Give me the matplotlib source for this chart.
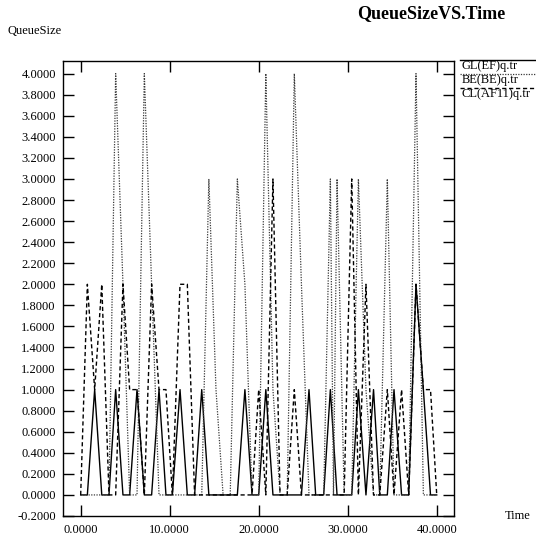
import matplotlib
matplotlib.use("Agg")
import matplotlib.pyplot as plt
from matplotlib.lines import Line2D

# ---- data ----
time = [0.0, 0.75, 1.57, 2.37, 3.18, 3.93, 4.75, 5.5, 6.33, 7.15, 7.97, 8.8, 9.58,
        10.3, 11.16, 11.98, 12.8, 13.6, 14.4, 15.2, 16.0, 16.8, 17.6, 18.45, 19.25,
        20.0, 20.8, 21.6, 22.4, 23.2, 24.0, 24.8, 25.65, 26.4, 27.3, 28.05, 28.8,
        29.6, 30.45, 31.2, 32.05, 32.9, 33.6, 34.45, 35.2, 36.05, 36.85, 37.67,
        38.5, 39.3, 40.0]
gl_ef = [0, 0, 1, 0, 0, 1, 0, 0, 1, 0, 0, 1, 0, 0, 1, 0, 0, 1, 0, 0, 0, 0, 0, 1, 0,
         0, 1, 0, 0, 0, 0, 0, 1, 0, 0, 1, 0, 0, 0, 1, 0, 1, 0, 0, 1, 0, 0, 2, 1, 0, 0]
cl_af11 = [0, 2, 1, 2, 0, 0, 2, 1, 1, 0, 2, 1, 1, 0, 2, 2, 0, 0, 0, 0, 0, 0, 0, 0, 0,
           1, 0, 3, 0, 0, 1, 0, 0, 0, 0, 0, 0, 0, 3, 0, 2, 0, 0, 1, 0, 1, 0, 2, 1, 1, 0]
be_time = [0.0, 3.18, 3.93, 4.75, 5.5, 6.33, 7.15, 7.97, 8.8, 13.6, 14.4, 15.2, 16.0,
           16.8, 17.6, 18.45, 19.25, 20.0, 20.8, 21.6, 22.4, 23.2, 24.0, 24.8, 25.65,
           27.3, 28.05, 28.4, 28.8, 29.6, 30.45, 31.2, 32.05, 32.9, 33.6, 34.45, 35.2,
           36.85, 37.67, 38.5, 40.0]
be_be = [0, 0, 4, 2, 0, 0, 4, 2, 0, 0, 3, 1, 0, 0, 3, 2, 0, 0, 4, 1, 0, 0, 4, 2, 0,
         0, 3, 0, 3, 0, 0, 3, 1, 0, 0, 3, 0, 0, 4, 0, 0]

legend_labels = ["GL(EF)q.tr", "BE(BE)q.tr", "CL(AF11)q.tr"]
x_ticks = [0, 10, 20, 30, 40]
y_ticks = [-0.2, 0.0, 0.2, 0.4, 0.6, 0.8, 1.0, 1.2, 1.4, 1.6, 1.8, 2.0, 2.2, 2.4,
           2.6, 2.8, 3.0, 3.2, 3.4, 3.6, 3.8, 4.0]

plt.rcParams['font.family'] = ['Liberation Serif', 'DejaVu Serif']

W, H = 536, 537
fig = plt.figure(figsize=(W / 100, H / 100), dpi=100)
ax = fig.add_axes([62.7 / W, 1 - 516 / H, (454 - 62.7) / W, (516 - 61) / H])

solid = dict(color='black', lw=1.0, linestyle='-')
dotted = dict(color='#3a3a3a', lw=0.9, linestyle=(0, (1, 1.1)))
dashed = dict(color='black', lw=1.0, linestyle=(0, (3, 2)))

ax.plot(time, gl_ef, **solid)
ax.plot(be_time, be_be, **dotted)
ax.plot(time, cl_af11, **dashed)

ax.set_xlim(-2.02, 41.94)
ax.set_ylim(-0.2, 4.12)
ax.set_xticks(x_ticks)
ax.set_xticklabels([f"{v:.4f}" for v in x_ticks])
ax.set_yticks(y_ticks)
ax.set_yticklabels([f"{v:.4f}" for v in y_ticks])
ax.tick_params(direction='in', length=8, width=1.0, top=True, right=True,
               labelsize=9, colors='black')
ax.tick_params(axis='y', pad=5)
ax.tick_params(axis='x', pad=6)
for s in ax.spines.values():
    s.set_linewidth(1.0)

# texts
fig.text(431 / W, 1 - 14 / H, "QueueSizeVS.Time", ha='center', va='center',
         fontsize=13, fontweight='bold')
fig.text(8 / W, 1 - 31 / H, "QueueSize", ha='left', va='center', fontsize=9)
fig.text(505 / W, 1 - 516 / H, "Time", ha='left', va='center', fontsize=9)

# legend (line above each label)
styles = [solid, dotted, dashed]
line_y = [60, 74, 88]
for lab, st, ly in zip(legend_labels, styles, line_y):
    fig.add_artist(Line2D([460 / W, 1.0], [1 - ly / H, 1 - ly / H],
                          transform=fig.transFigure, **st))
    fig.text(462 / W, 1 - (ly + 5.5) / H, lab, ha='left', va='center', fontsize=9)

fig.savefig("out.png", dpi=100)
